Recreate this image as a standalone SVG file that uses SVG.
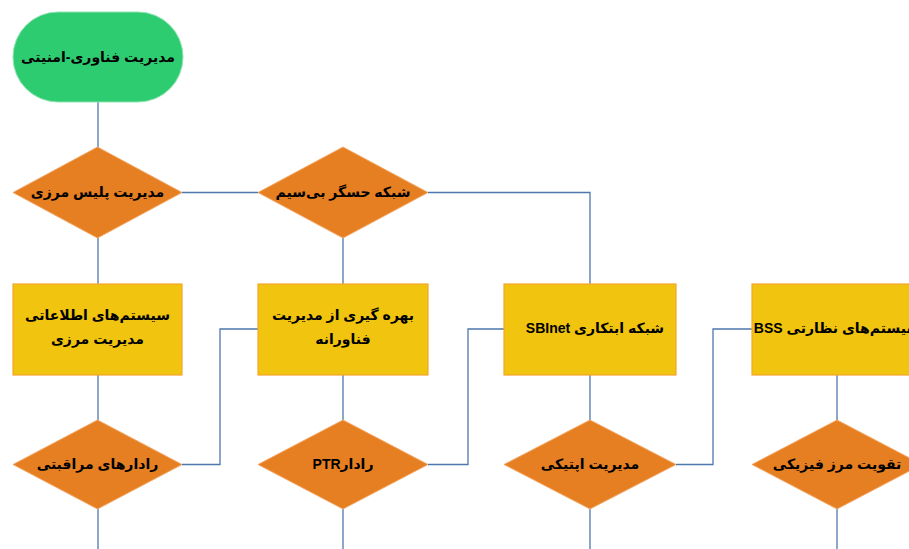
<svg xmlns="http://www.w3.org/2000/svg" width="909" height="549" viewBox="0 0 909 549">
<style>
.bg{fill:#ffffff}
.term{fill:#2ECC71;stroke:#8FE3B2;stroke-width:1}
.dia{fill:#E67E22;stroke:#F3A968;stroke-width:1}
.box{fill:#F1C40F;stroke:#F5A62A;stroke-width:1.2}
.conn{fill:none;stroke:#4E77AD;stroke-width:1.3}
.t{font-family:"Liberation Sans","DejaVu Sans",sans-serif;font-weight:bold;font-size:14px;fill:#000;text-anchor:middle;direction:rtl}
</style>
<rect class="bg" x="0" y="0" width="909" height="549"/>
<g id="connectors">
<path class="conn" d="M98,102 V147"/>
<path class="conn" d="M182,192.5 H258"/>
<path class="conn" d="M428,192.5 H590 V284"/>
<path class="conn" d="M98,238 V284"/>
<path class="conn" d="M343,238 V284"/>
<path class="conn" d="M98,375 V420"/>
<path class="conn" d="M343,375 V420"/>
<path class="conn" d="M590,375 V420"/>
<path class="conn" d="M837,375 V420"/>
<path class="conn" d="M98,509 V549"/>
<path class="conn" d="M343,509 V549"/>
<path class="conn" d="M590,509 V549"/>
<path class="conn" d="M837,509 V549"/>
<path class="conn" d="M182,464.5 H220 V329 H258"/>
<path class="conn" d="M428,464.5 H468 V329 H504"/>
<path class="conn" d="M676,464.5 H713 V329 H752"/>
</g>
<g id="start">
<rect class="term" x="13" y="12" width="170" height="90" rx="45" ry="45"/>
<text class="t" x="98" y="62" direction="rtl">مدیریت فناوری-امنیتی</text>
</g>
<g id="d-border-police">
<polygon class="dia" points="97.5,147 182,192.5 97.5,238 13,192.5"/>
<text class="t" x="97.5" y="197" direction="rtl">مدیریت پلیس مرزی</text>
</g>
<g id="d-wireless">
<polygon class="dia" points="343,147 428,192.5 343,238 258,192.5"/>
<text class="t" x="343" y="197" direction="rtl">شبکه حسگر بی‌سیم</text>
</g>
<g id="r-info-systems">
<rect class="box" x="13" y="284" width="169" height="91"/>
<text class="t" x="97.5" y="320" direction="rtl">سیستم‌های اطلاعاتی</text>
<text class="t" x="97.5" y="344" direction="rtl">مدیریت مرزی</text>
</g>
<g id="r-tech-mgmt">
<rect class="box" x="258" y="284" width="170" height="91"/>
<text class="t" x="343" y="320" direction="rtl">بهره گیری از مدیریت</text>
<text class="t" x="343" y="344" direction="rtl">فناورانه</text>
</g>
<g id="r-sbinet">
<rect class="box" x="504" y="284" width="172" height="91"/>
<text class="t" x="595" y="333" direction="rtl">شبکه ابتکاری SBInet</text>
</g>
<g id="r-bss">
<rect class="box" x="752" y="284" width="170" height="91"/>
<text class="t" x="837" y="333" direction="rtl">سیستم‌های نظارتی BSS</text>
</g>
<g id="d-radars">
<polygon class="dia" points="97.5,420 182,464.5 97.5,509 13,464.5"/>
<text class="t" x="97.5" y="469" direction="rtl">رادارهای مراقبتی</text>
</g>
<g id="d-ptr">
<polygon class="dia" points="343,420 428,464.5 343,509 258,464.5"/>
<text class="t" x="343" y="469" direction="rtl">رادارPTR</text>
</g>
<g id="d-optical">
<polygon class="dia" points="590,420 676,464.5 590,509 504,464.5"/>
<text class="t" x="590" y="469" direction="rtl">مدیریت اپتیکی</text>
</g>
<g id="d-physical">
<polygon class="dia" points="837,420 922,464.5 837,509 752,464.5"/>
<text class="t" x="837" y="469" direction="rtl">تقویت مرز فیزیکی</text>
</g>
</svg>
